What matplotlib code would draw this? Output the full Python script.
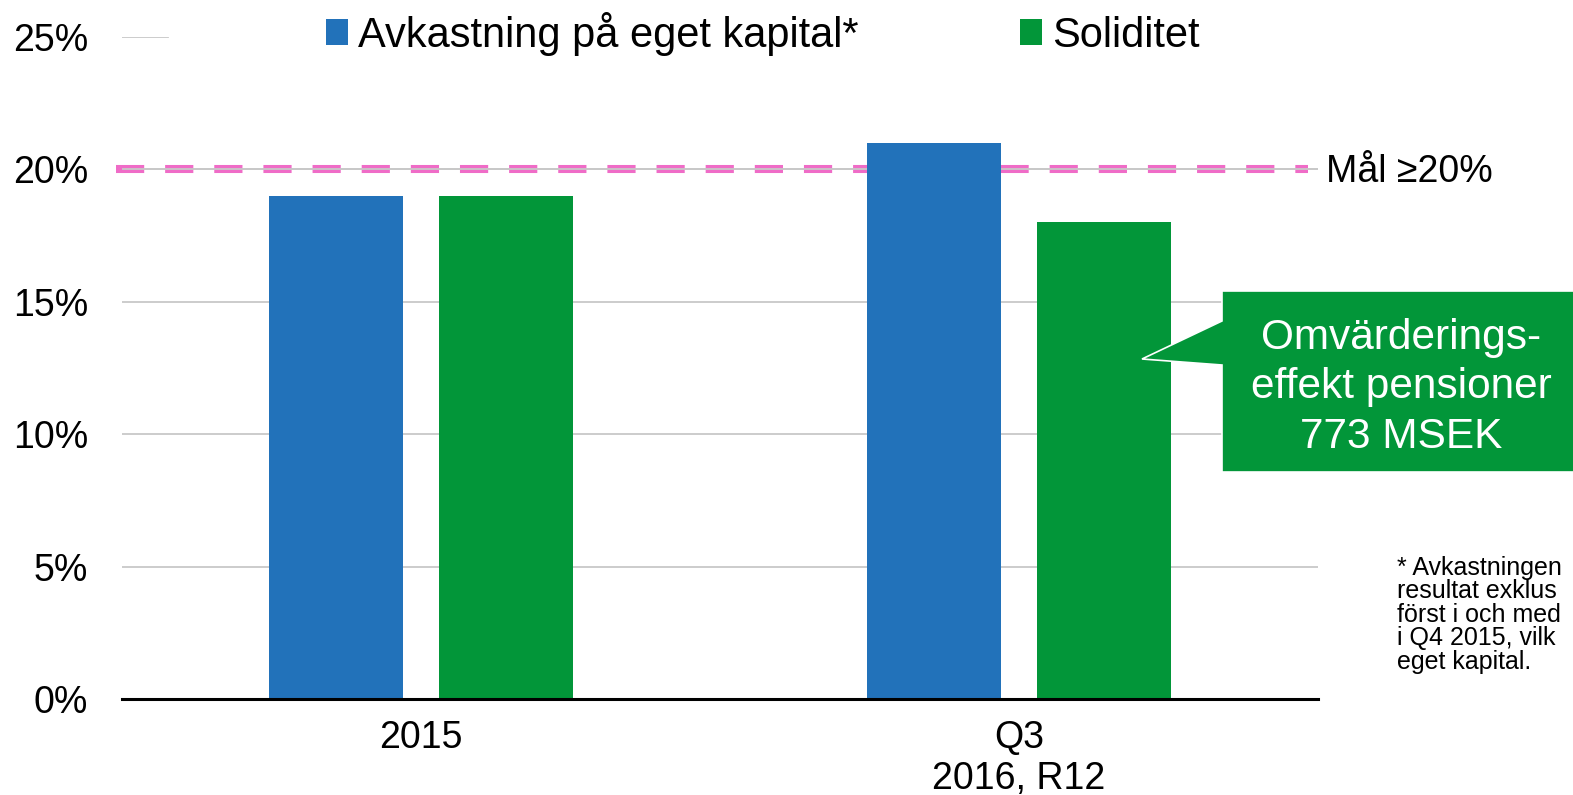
import matplotlib.pyplot as plt
import matplotlib.patches as patches
import numpy as np

plt.rcParams['font.family'] = ['Liberation Sans', 'DejaVu Sans']

# data
categories = ['2015', 'Q3\n2016, R12']
avkastning = [19, 21]
soliditet = [19, 18]
series_names = ['Avkastning på eget kapital*', 'Soliditet']
yticks = [0, 5, 10, 15, 20, 25]
ytick_labels = ['0%', '5%', '10%', '15%', '20%', '25%']
target = 20
target_label = 'Mål ≥20%'
callout = 'Omvärderings-\neffekt pensioner\n773 MSEK'
# footnote as far as it is visible in the picture
footnote = ['* Avkastningen', 'resultat exklus', 'först i och med', 'i Q4 2015, vilk', 'eget kapital.']

blue = '#2272BA'
green = '#029639'
pink = '#EF6CC7'
grid_col = '#C8C8C8'

W, H = 1573, 795


def fp(px, py):
    # pixel position -> figure fraction
    return (px / W, 1 - py / H)


fig = plt.figure(figsize=(W / 100, H / 100), dpi=100)
ax = fig.add_axes([122 / W, 1 - 699 / H, (1318 - 122) / W, (699 - 37) / H])

x = np.arange(len(categories))
bw = 0.223
off = 0.142
ax.bar(x - off, avkastning, bw, color=blue, label=series_names[0], zorder=3)
ax.bar(x + off, soliditet, bw, color=green, label=series_names[1], zorder=3)

ax.set_xlim(-0.5, len(categories) - 0.5)
ax.set_ylim(0, 25)

# gridlines (25% line mostly hidden behind the legend)
for t in yticks[1:-1]:
    ax.axhline(t, color=grid_col, lw=1.3, zorder=1)
ax.axhline(yticks[-1], xmin=0, xmax=(168 - 122) / 1196, color=grid_col, lw=1.3, zorder=1)

# target line
ax.plot([-0.005, 0.9916], [target, target], transform=ax.get_yaxis_transform(),
        color=pink, lw=5.8, dashes=(3.5, 2.6), clip_on=False, zorder=2,
        solid_capstyle='butt', dash_capstyle='butt')
ax.axhline(target, color=grid_col, lw=1.3, zorder=2.5)
fig.text(*fp(1326, 182), target_label, fontsize=27, va='baseline', ha='left')

ax.set_yticks(yticks)
ax.set_yticklabels(ytick_labels, fontsize=27)
ax.set_xticks(x)
ax.set_xticklabels(categories, fontsize=27, linespacing=1.2)
ax.tick_params(axis='both', length=0)
ax.tick_params(axis='y', pad=24.5)
ax.tick_params(axis='x', pad=15)
for s in ['left', 'right', 'top']:
    ax.spines[s].set_visible(False)
ax.spines['bottom'].set_linewidth(2.2)
ax.spines['bottom'].set_zorder(4)

leg = ax.legend(loc='center left', bbox_to_anchor=fp(326, 34), bbox_transform=fig.transFigure,
                ncol=2, frameon=False, fontsize=30, handlelength=0.53, handleheight=0.58,
                handletextpad=0.24, columnspacing=3.87, borderpad=0, borderaxespad=0)

# callout box with pointer
poly = [fp(1222, 291), fp(1600, 291), fp(1600, 472), fp(1222, 472),
        fp(1222, 365), fp(1142, 359), fp(1222, 321)]
fig.patches.append(patches.Polygon(poly, closed=True, transform=fig.transFigure,
                                   facecolor=green, edgecolor='white', lw=1.2, zorder=5))
for line, base in zip(callout.split('\n'), [349, 398, 448]):
    fig.text(*fp(1401, base), line, color='white', fontsize=30.5,
             ha='center', va='baseline', zorder=6)

# footnote
for i, line in enumerate(footnote):
    fig.text(*fp(1397, 575 + i * 23.5), line, fontsize=18, va='baseline', ha='left')

fig.savefig('out.png', dpi=100)
